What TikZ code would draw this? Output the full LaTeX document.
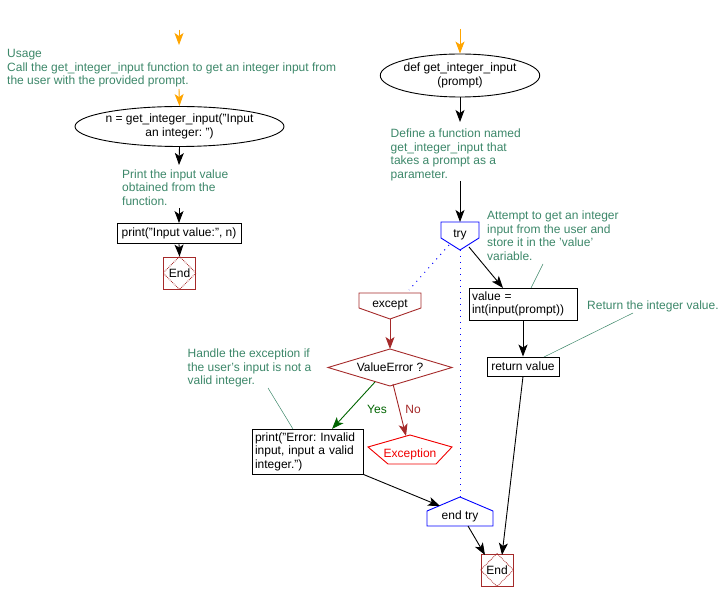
\documentclass[tikz,border=0pt]{standalone}
\usepackage{fontspec}
\setmainfont{Liberation Sans}
\usetikzlibrary{arrows.meta,shapes.geometric}
\definecolor{cmt}{RGB}{60,135,105}
\definecolor{brn}{RGB}{165,42,42}
\definecolor{org}{RGB}{255,165,0}
\definecolor{ygreen}{RGB}{0,100,0}
\definecolor{exred}{RGB}{240,0,0}
\frenchspacing
\begin{document}
\begin{tikzpicture}[x=1pt,y=-1pt,
  every node/.style={font=\fontsize{12}{13.5}\selectfont, inner sep=0pt},
  comment/.style={text=cmt, align=left, anchor=north west},
  lbl/.style={anchor=base},
  box/.style={draw=black, rectangle, line width=0.9pt},
  ell/.style={draw=black, ellipse, line width=0.9pt, align=center},
  arr/.style={-{Stealth[length=12pt,width=9pt,inset=3pt]}, line width=0.9pt},
  oarr/.style={arr, draw=org, fill=org},
  clink/.style={draw=cmt, line width=0.5pt},
  dots/.style={draw=blue, line width=1pt, dash pattern=on 1pt off 5pt},
  endbox/.style={draw=brn, rectangle, minimum width=32pt, minimum height=32pt, line width=0.9pt}
]
\useasboundingbox (0,0) rectangle (725,601);

% ---------- left column ----------
\coordinate (o1a) at (179,30);
\coordinate (o1b) at (179,45);
\draw[oarr] (o1a) -- (o1b);

\node[comment] (usage) at (7,49.4) {Usage\\Call the get\_integer\_input function to get an integer input from\\the user with the provided prompt.};

\coordinate (o2a) at (179,89);
\node[ell, minimum width=171pt, minimum height=40pt] (e1) at (179.5,126.5) {n = get\_integer\_input("Input\\an integer: ")};
\draw[oarr] (o2a) -- (e1.north);

\coordinate (c1) at (179,165);
\draw[arr] (e1.south) -- (c1);
\node[comment] (t1) at (122,169.4) {Print the input value\\obtained from the\\function.};
\coordinate (c2) at (179,208);
\node[box, minimum width=124pt, minimum height=20pt] (p1) at (179,233.5) {print("Input value:", n)};
\draw[arr] (c2) -- (p1.north);

\node[endbox] (end1) at (179.5,273) {End};
\draw[brn, densely dotted, line width=0.8pt] (end1.north) -- (end1.east) -- (end1.south) -- (end1.west) -- cycle;
\draw[arr] (p1.south) -- (end1.north);

% ---------- right column ----------
\coordinate (o3a) at (460,29);
\node[ell, minimum width=136pt, minimum height=43pt] (e2) at (460,75.5) {def get\_integer\_input\\(prompt)};
\draw[oarr] (o3a) -- (e2.north);
\coordinate (c3) at (460,122);
\draw[arr] (e2.south) -- (c3);
\node[comment] (t2) at (390.5,128.9) {Define a function named\\get\_integer\_input that\\takes a prompt as a\\parameter.};
\coordinate (c4) at (460,181);

% try
\draw[blue, line width=0.9pt] (441,222) -- (479,222) -- (479,238) -- (460,250) -- (441,238) -- cycle;
\node[lbl] (try) at (460,238) {try};
\coordinate (trytop) at (460,222);
\coordinate (trybot) at (460,250);
\coordinate (tryR) at (469,247);
\coordinate (tryL) at (449,245);
\draw[arr] (c4) -- (trytop);

\node[comment] (t3) at (487,210.9) {Attempt to get an integer\\input from the user and\\store it in the 'value'\\variable.};

\node[box, minimum width=108pt, minimum height=32pt, text width=102pt, inner xsep=3pt, align=left] (val) at (523,304) {value =\\int(input(prompt))};
\coordinate (valin) at (503,288);
\draw[arr] (tryR) -- (valin);
\coordinate (t3a) at (543,264);
\coordinate (t3b) at (531,288);
\draw[clink] (t3a) -- (t3b);

\node[text=cmt, anchor=base west] (t4) at (587,309) {Return the integer value.};
\node[box, minimum width=72pt, minimum height=19pt] (ret) at (523,366.5) {return value};
\draw[arr] (val.south) -- (ret.north);
\coordinate (t4a) at (633,313);
\coordinate (t4b) at (544,357);
\draw[clink] (t4a) -- (t4b);

% except
\draw[brn, line width=0.9pt] (359,293) -- (421,293) -- (421,308) -- (390,319) -- (359,308) -- cycle;
\node[lbl] (except) at (390,308) {except};
\coordinate (excbot) at (390,319);
\coordinate (exctop) at (409,290);
\draw[dots] (tryL) -- (exctop);
\coordinate (etrytop) at (460,497);
\draw[dots] (trybot) -- (etrytop);

% ValueError diamond
\draw[brn, line width=0.9pt] (328,367.5) -- (390,349) -- (452,367.5) -- (390,386) -- cycle;
\node[lbl] (ve) at (390,371) {ValueError ?};
\coordinate (vetop) at (390,349);
\draw[arr, brn] (excbot) -- (vetop);
\coordinate (veL) at (375,382);
\coordinate (veR) at (393,384);

\node[comment] (t5) at (187.5,348.9) {Handle the exception if\\the user's input is not a\\valid integer.};

\node[box, minimum width=111pt, minimum height=45pt, text width=105pt, inner xsep=3pt, align=left] (err) at (307.5,451.5) {print("Error: Invalid\\input, input a valid\\integer.")};
\coordinate (errin) at (332,429);
\draw[arr, ygreen] (veL) -- (errin);
\node[lbl, text=ygreen] (yes) at (377,413) {Yes};
\coordinate (t5a) at (268,388);
\coordinate (t5b) at (293,429);
\draw[clink] (t5a) -- (t5b);

% Exception
\draw[exred, line width=0.9pt] (368,447) -- (410,435) -- (452,447) -- (436,464) -- (388,464) -- cycle;
\node[lbl, text=exred] (exc) at (410,457) {Exception};
\coordinate (exctop2) at (406,436);
\draw[arr, brn] (veR) -- (exctop2);
\node[lbl, text=brn] (no) at (413,413) {No};

% end try
\draw[blue, line width=0.9pt] (427,511) -- (460,497) -- (493,511) -- (493,526) -- (427,526) -- cycle;
\node[lbl] (etry) at (460,519) {end try};
\coordinate (etryin) at (440,506);
\draw[arr] (err.south east) -- (etryin);
\coordinate (etryout) at (468,526);

% End 2
\node[endbox] (end2) at (497,570) {End};
\draw[brn, densely dotted, line width=0.8pt] (end2.north) -- (end2.east) -- (end2.south) -- (end2.west) -- cycle;
\coordinate (end2a) at (485,555);
\coordinate (end2b) at (502,555);
\draw[arr] (etryout) -- (end2a);
\draw[arr] (ret.south) -- (end2b);
\end{tikzpicture}
\end{document}
